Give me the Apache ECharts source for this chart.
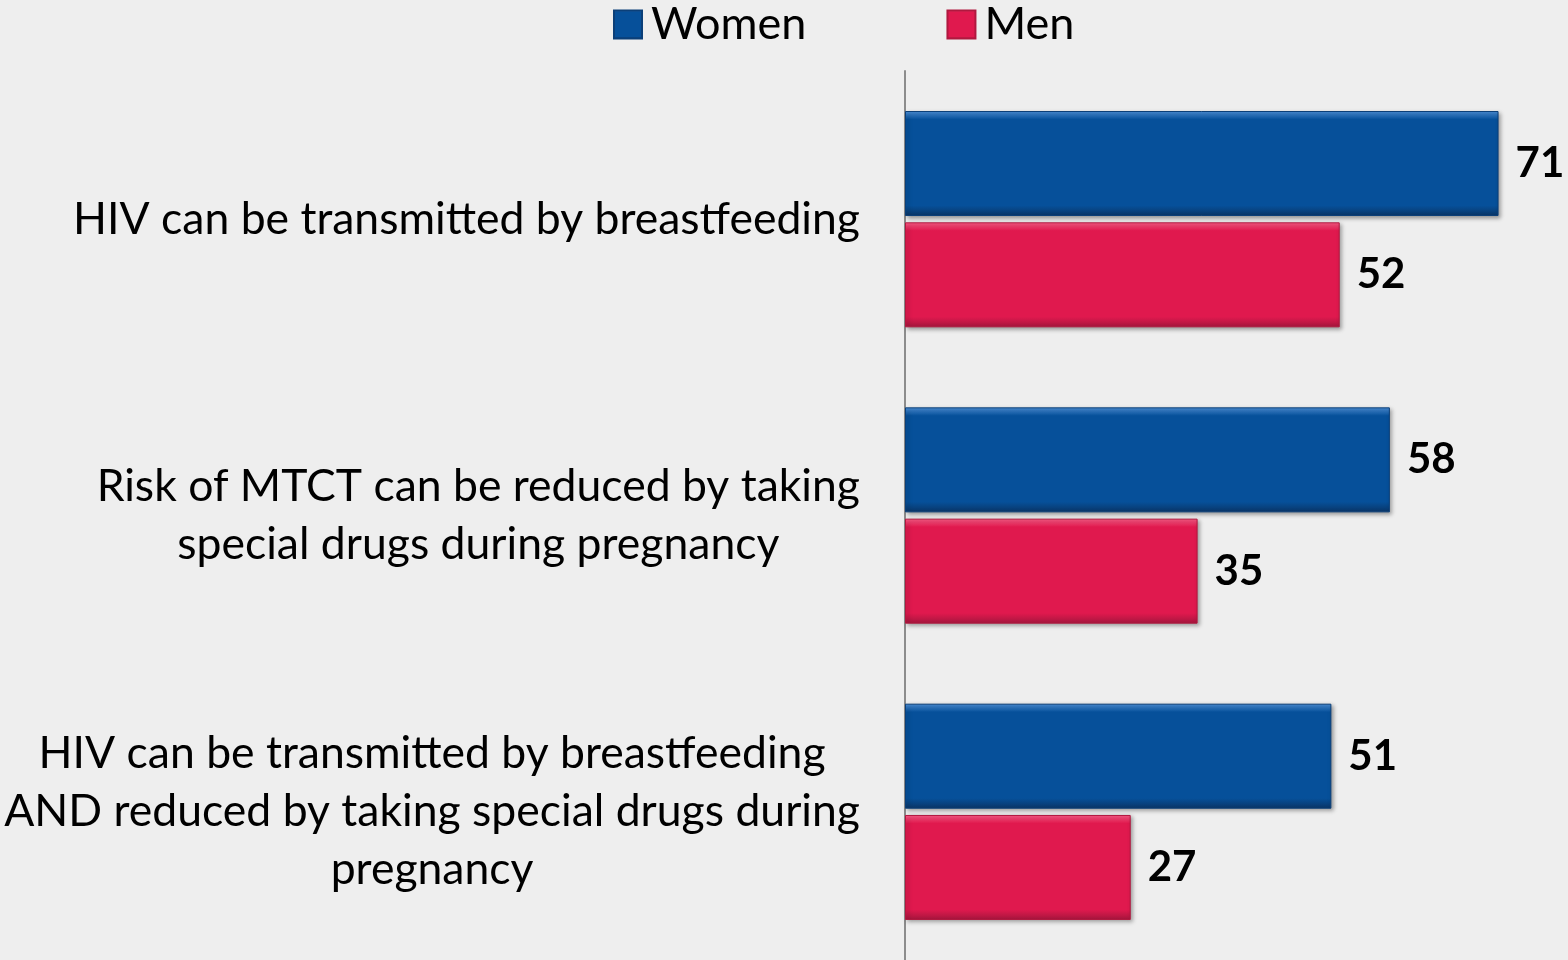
<!DOCTYPE html>
<html>
<head>
<meta charset="utf-8">
<script src="https://cdn.jsdelivr.net/npm/echarts@6/dist/echarts.min.js"></script>
<style>
  html, body { margin: 0; padding: 0; background: #eeeeee; }
  #chart-1 { width: 1568px; height: 960px; }
</style>
</head>
<body>
<div id="chart-1"></div>
<script>
/************************        HIV / MTCT knowledge by sex        **************************/

var categories = [
    ['HIV can be transmitted by breastfeeding'],
    ['Risk of MTCT can be reduced by taking', 'special drugs during pregnancy'],
    ['HIV can be transmitted by breastfeeding', 'AND reduced by taking special drugs during', 'pregnancy']
];
var women = [71, 58, 51];
var men = [52, 35, 27];

var catNames = categories.map(function (lines) { return lines.join('\n'); });

function bevel(light, main, dark) {
    return new echarts.graphic.LinearGradient(0, 0, 0, 1, [
        {offset: 0, color: light},
        {offset: 0.08, color: main},
        {offset: 0.9, color: main},
        {offset: 1, color: dark}
    ]);
}

var dom = document.getElementById("chart-1");
var myChart = echarts.init(dom);
var option = {
    backgroundColor: '#eeeeee',
    textStyle: {fontFamily: 'Lato'},
    legend: {
        top: -3,
        left: 608,
        itemWidth: 28,
        itemHeight: 28,
        itemGap: 140,
        icon: 'rect',
        textStyle: {fontSize: 45, color: '#000', fontFamily: 'Lato', padding: [0, 0, 0, 4]},
        data: ['Women', 'Men']
    },
    grid: {
        left: 905,
        right: 36,
        top: 71,
        height: 894,
        containLabel: false
    },
    xAxis: {
        type: 'value',
        min: 0,
        max: 75,
        show: false
    },
    yAxis: {
        type: 'category',
        inverse: true,
        data: catNames,
        axisLine: {lineStyle: {color: '#8c8c8c', width: 2}},
        axisTick: {show: false},
        axisLabel: {
            margin: 45,
            align: 'right',
            formatter: function (v) {
                return v.split('\n').map(function (s) { return '{a|' + s + '}'; }).join('\n');
            },
            rich: {
                a: {
                    fontFamily: 'Lato',
                    fontSize: 44.5,
                    lineHeight: 58,
                    color: '#000',
                    align: 'center'
                }
            }
        }
    },
    series: [
        {
            name: 'Women',
            type: 'bar',
            data: women,
            barWidth: 105,
            barGap: '6%',
            itemStyle: {
                color: bevel('#4d92dc', '#06509a', '#0a3566'),
                borderColor: '#0b3f78',
                borderWidth: 1,
                shadowColor: 'rgba(0,0,0,0.35)',
                shadowBlur: 4,
                shadowOffsetX: 2,
                shadowOffsetY: 2
            },
            label: {
                show: true,
                position: 'right',
                distance: 17,
                fontFamily: 'Lato',
                fontSize: 42,
                fontWeight: 'bold',
                color: '#000'
            }
        },
        {
            name: 'Men',
            type: 'bar',
            data: men,
            barWidth: 105,
            itemStyle: {
                color: bevel('#ff5d88', '#e0194e', '#a5163d'),
                borderColor: '#b0183f',
                borderWidth: 1,
                shadowColor: 'rgba(0,0,0,0.35)',
                shadowBlur: 4,
                shadowOffsetX: 2,
                shadowOffsetY: 2
            },
            label: {
                show: true,
                position: 'right',
                distance: 17,
                fontFamily: 'Lato',
                fontSize: 42,
                fontWeight: 'bold',
                color: '#000'
            }
        }
    ]
};

myChart.setOption(option);
</script>
</body>
</html>
